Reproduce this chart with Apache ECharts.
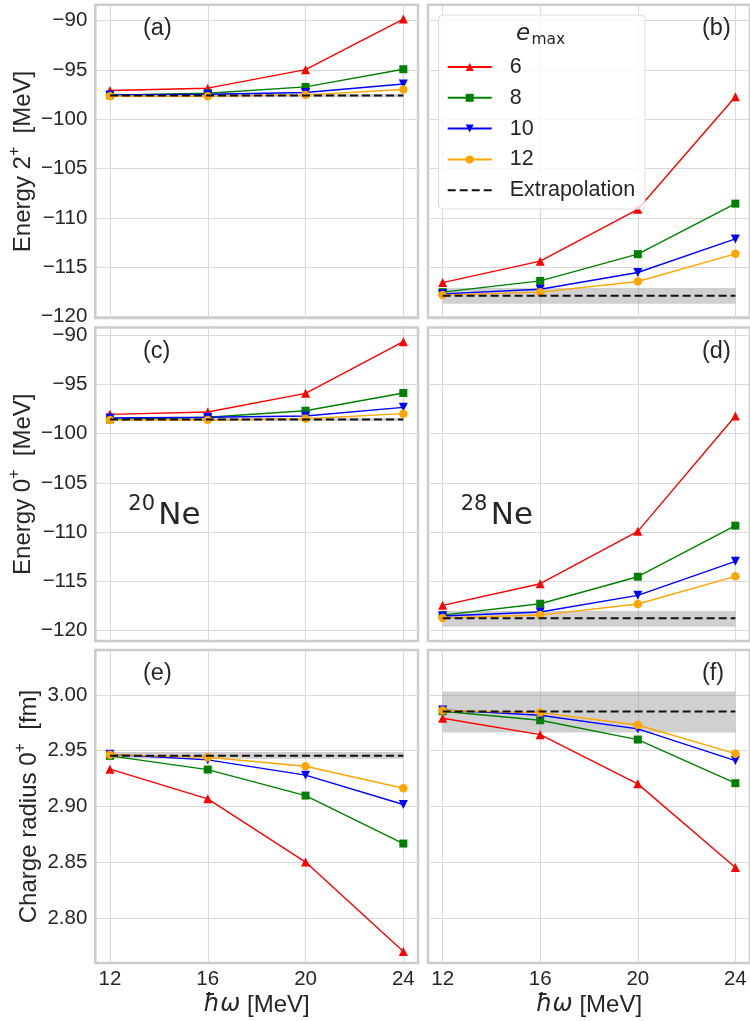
<!DOCTYPE html>
<html><head><meta charset="utf-8">
<script src="https://cdn.jsdelivr.net/npm/echarts@6/dist/echarts.min.js"></script>
<style>html,body{margin:0;padding:0;background:#fff}#c{width:750px;height:1021px}</style>
</head><body><div id="c"></div><script>
// ---- data ----
const hw = [12, 16, 20, 24];
const panelLabels = ['(a)', '(b)', '(c)', '(d)', '(e)', '(f)'];
// panels: a,b = Energy 2+ ; c,d = Energy 0+ ; e,f = charge radius ; left 20Ne, right 28Ne
const emax6 = [
  [-97.07, -96.84, -94.96, -89.83],
  [-116.54, -114.37, -109.11, -97.71],
  [-98.05, -97.81, -95.92, -90.68],
  [-117.42, -115.23, -109.92, -98.22],
  [2.9335, 2.9069, 2.8502, 2.7701],
  [2.9791, 2.9644, 2.9203, 2.8453]
];
const emax8 = [
  [-97.55, -97.35, -96.71, -94.92],
  [-117.51, -116.37, -113.66, -108.54],
  [-98.56, -98.35, -97.68, -95.88],
  [-118.41, -117.26, -114.52, -109.34],
  [2.9454, 2.9331, 2.9098, 2.8668],
  [2.9854, 2.9773, 2.9600, 2.9209]
];
const emax10 = [
  [-97.52, -97.45, -97.28, -96.41],
  [-117.68, -117.21, -115.52, -112.12],
  [-98.42, -98.35, -98.22, -97.34],
  [-118.51, -118.10, -116.41, -112.96],
  [2.9469, 2.9418, 2.9281, 2.9018],
  [2.9866, 2.9818, 2.9696, 2.9412]
];
const emax12 = [
  [-97.65, -97.65, -97.52, -96.98],
  [-117.81, -117.51, -116.43, -113.63],
  [-98.62, -98.62, -98.49, -97.98],
  [-118.71, -118.41, -117.29, -114.48],
  [2.9465, 2.9442, 2.9361, 2.9164],
  [2.9860, 2.9842, 2.9731, 2.9474]
];
const extrapolation = [-97.59, -117.88, -98.56, -118.74, 2.9456, 2.9851];
const bandLow = [-97.75, -118.69, -98.72, -119.59, 2.9427, 2.9663];
const bandHigh = [-97.43, -117.10, -98.40, -118.00, 2.9489, 3.0030];
const energyTicks = [-120, -115, -110, -105, -100, -95, -90];
const radiusTicks = [2.80, 2.85, 2.90, 2.95, 3.00];
const xTicks = [12, 16, 20, 24];
const emaxNames = ['6', '8', '10', '12'];

// ---- layout / style ----
const colLeft = [95.3, 428];
const colWidth = [322.7, 323.4];
const rowTop = [4.8, 327.4, 650];
const rowHeight = [313.3, 313.6, 313];
const yRange = [[-120.14, -88.39], [-121.04, -89.23], [2.7597, 3.0403]];
const TXT = '#262626';
const SANS = '"Liberation Sans", Arial, sans-serif';
const DJV = '"DejaVu Sans", sans-serif';
const seriesStyle = [
  {color: '#ff0000', symbol: 'triangle', size: 9},
  {color: '#008000', symbol: 'rect', size: 8},
  {color: '#0000ff', symbol: 'path://M0,0 L10,0 L5,10 Z', size: 9},
  {color: '#ffa500', symbol: 'circle', size: 8.5}
];
const emaxData = [emax6, emax8, emax10, emax12];
const yNames = [
  'Energy 2{s|+}  [MeV]',
  'Energy 0{s|+}  [MeV]',
  'Charge radius 0{s|+}  [fm]'
];
const nameGaps = [55, 55, 49];

const grids = [], xAxes = [], yAxes = [], series = [], graphics = [];
for (let i = 0; i < 6; i++) {
  const r = Math.floor(i / 2), c = i % 2;
  grids.push({left: colLeft[c], top: rowTop[r], width: colWidth[c], height: rowHeight[r],
    show: true, borderColor: '#cccccc', borderWidth: 2.5, backgroundColor: '#fff', containLabel: false});
  xAxes.push({
    gridIndex: i, type: 'value', min: 11.4, max: 24.6,
    axisLine: {show: false}, axisTick: {show: false, customValues: xTicks},
    axisLabel: {show: r === 2, customValues: xTicks, fontSize: 20.5, color: TXT, fontFamily: SANS, margin: 6},
    splitLine: {show: true, lineStyle: {color: '#d9d9d9', width: 1.1}},
    name: r === 2 ? '{i|ħω} [MeV]' : '', nameLocation: 'middle', nameGap: 30,
    nameTextStyle: {fontSize: 24, color: TXT, fontFamily: SANS,
      rich: {i: {fontFamily: DJV, fontStyle: 'italic', fontSize: 24, color: TXT}}}
  });
  const ticks = r === 2 ? radiusTicks : energyTicks;
  yAxes.push({
    gridIndex: i, type: 'value', min: yRange[r][0], max: yRange[r][1],
    axisLine: {show: false}, axisTick: {show: false, customValues: ticks},
    axisLabel: {show: c === 0, customValues: ticks, fontSize: 20.5, color: TXT, fontFamily: SANS, margin: 8,
      formatter: v => r === 2 ? v.toFixed(2) : String(Math.round(v)).replace('-', '\u2212')},
    splitLine: {show: true, lineStyle: {color: '#d9d9d9', width: 1.1}},
    name: c === 0 ? yNames[r] : '', nameLocation: 'middle', nameGap: nameGaps[r],
    nameTextStyle: {fontSize: 24, color: TXT, fontFamily: SANS,
      rich: {s: {fontSize: 16, fontFamily: SANS, color: TXT, padding: [0, 0, 18, 0]}}}
  });
  for (let k = 0; k < 4; k++) {
    const st = seriesStyle[k];
    series.push({
      type: 'line', name: emaxNames[k], xAxisIndex: i, yAxisIndex: i,
      data: hw.map((x, j) => [x, emaxData[k][i][j]]),
      symbol: st.symbol, symbolSize: st.size, showSymbol: true,
      lineStyle: {color: st.color, width: 1.4}, itemStyle: {color: st.color},
      z: 3 + k, animation: false, emphasis: {disabled: true}
    });
  }
  series.push({
    type: 'line', name: 'Extrapolation', xAxisIndex: i, yAxisIndex: i,
    data: hw.map(x => [x, extrapolation[i]]),
    symbol: 'none', itemStyle: {color: 'rgba(0,0,0,0)', borderWidth: 0},
    lineStyle: {color: '#111', width: 2, type: [8, 4]}, z: 8, animation: false,
    emphasis: {disabled: true},
    markArea: {silent: true, itemStyle: {color: 'rgba(150,150,150,0.45)'},
      data: [[{coord: [hw[0], bandLow[i]]}, {coord: [hw[hw.length - 1], bandHigh[i]]}]]}
  });
  graphics.push({type: 'text', left: c === 0 ? 143 : 702, top: rowTop[r] + 12,
    style: {text: panelLabels[i], fontSize: 23.5, fontFamily: SANS, fill: TXT}, z: 20});
}
// nucleus labels
graphics.push({type: 'text', x: 128.3, y: 505, style: {text: '20', fontSize: 21, fontFamily: DJV, fill: TXT, verticalAlign: 'middle'}, z: 20});
graphics.push({type: 'text', x: 158.3, y: 516, style: {text: 'Ne', fontSize: 31, fontFamily: DJV, fill: TXT, verticalAlign: 'middle'}, z: 20});
graphics.push({type: 'text', x: 460.7, y: 505, style: {text: '28', fontSize: 21, fontFamily: DJV, fill: TXT, verticalAlign: 'middle'}, z: 20});
graphics.push({type: 'text', x: 490.7, y: 516, style: {text: 'Ne', fontSize: 31, fontFamily: DJV, fill: TXT, verticalAlign: 'middle'}, z: 20});
// legend frame and title
graphics.push({type: 'rect', shape: {x: 438.5, y: 15, width: 206.5, height: 194, r: 4},
  style: {fill: 'rgba(255,255,255,0.8)', stroke: '#dcdcdc', lineWidth: 1}, z: 30});
graphics.push({type: 'text', x: 516, y: 34, style: {text: 'e', fontSize: 23, fontStyle: 'italic', fontFamily: DJV, fill: TXT, verticalAlign: 'middle'}, z: 31});
graphics.push({type: 'text', x: 531.5, y: 40, style: {text: 'max', fontSize: 15.5, fontFamily: DJV, fill: TXT, verticalAlign: 'middle'}, z: 31});

const chart = echarts.init(document.getElementById('c'), null, {renderer: 'canvas'});
chart.setOption({
  animation: false,
  backgroundColor: '#ffffff',
  grid: grids, xAxis: xAxes, yAxis: yAxes, series: series,
  legend: {
    data: emaxNames.concat(['Extrapolation']), orient: 'vertical', left: 446.7, top: 56, padding: 0,
    itemWidth: 44, itemHeight: 10, itemGap: 8.8, selectedMode: false, z: 40,
    textStyle: {fontSize: 21.5, color: TXT, fontFamily: SANS, lineHeight: 22, padding: [0, 0, 0, 13]}
  },
  graphic: graphics
});
</script></body></html>
